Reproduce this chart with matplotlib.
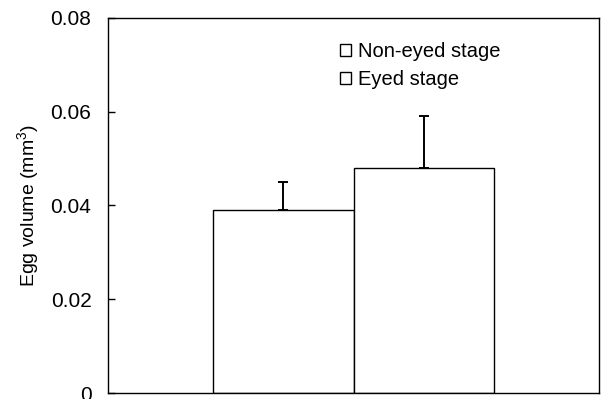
import matplotlib.pyplot as plt
from matplotlib.patches import Patch

plt.rcParams['font.family'] = ['Liberation Sans', 'DejaVu Sans']
plt.rcParams['mathtext.fontset'] = 'custom'
plt.rcParams['mathtext.rm'] = 'Liberation Sans'

stages = ['Non-eyed stage', 'Eyed stage']
volumes = [0.039, 0.048]
errors = [0.006, 0.011]
ytick_vals = [0, 0.02, 0.04, 0.06, 0.08]
ytick_labels = ['0', '0.02', '0.04', '0.06', '0.08']

fig = plt.figure(figsize=(6.07, 3.99), dpi=100)
ax = fig.add_axes([0.178, 0.015, 0.809, 0.940])

x = [0, 1]
ax.bar(x, volumes, width=1.0, color='white', edgecolor='black', linewidth=1.0)
ax.errorbar(x, volumes, yerr=[[0, 0], errors], fmt='none', ecolor='black',
            elinewidth=1.4, capsize=3.5, capthick=1.4)

ax.set_xlim(-1.25, 2.25)
ax.set_ylim(0, 0.08)
ax.set_xticks([])
ax.set_yticks(ytick_vals)
ax.set_yticklabels(ytick_labels, fontsize=15)
ax.tick_params(axis='y', direction='in', length=5, width=1.0, pad=12)
for s in ax.spines.values():
    s.set_linewidth(1.0)

ax.set_ylabel(r'Egg volume (mm$^{3}$)', fontsize=14, labelpad=6)

handles = [Patch(facecolor='white', edgecolor='black', linewidth=1.0) for _ in stages]
ax.legend(handles, stages, loc='upper left', bbox_to_anchor=(0.472, 0.935),
          frameon=False, fontsize=14.5, handlelength=0.55, handleheight=0.55,
          handletextpad=0.35, labelspacing=0.42, borderpad=0, borderaxespad=0)

fig.savefig('out.png', dpi=100)
